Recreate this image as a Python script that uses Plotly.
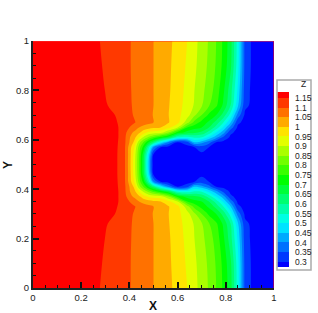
import numpy as np
import plotly.graph_objects as go

x_vals = [0, .15, .275, .31, .34, .36, .38, .40, .42, .44, .46, .48, .50, .53, .56, .60, .64, .67, .70, .73, .76, .79, .82, .85, .88, .92, .96, 1]
y_lower = [0, .1, .2, .26, .30, .33, .35, .37, .39, .41, .43, .46, .5]
z_lower = [
 [1.19,1.17,1.151,1.137,1.125,1.118,1.11,1.103,1.092,1.08,1.07,1.06,1.05,1.03,1.012,.985,.95,.915,.88,.845,.80,.74,.67,.525,.33,.28,.28,.28],
 [1.19,1.172,1.155,1.14,1.127,1.119,1.111,1.103,1.092,1.08,1.07,1.06,1.05,1.03,1.01,.98,.943,.91,.875,.84,.795,.735,.66,.52,.33,.28,.28,.28],
 [1.19,1.175,1.158,1.146,1.13,1.12,1.113,1.105,1.092,1.08,1.07,1.06,1.05,1.03,1.008,.975,.935,.90,.865,.825,.78,.71,.62,.49,.32,.28,.28,.28],
 [1.19,1.175,1.16,1.15,1.135,1.123,1.113,1.105,1.095,1.082,1.072,1.062,1.05,1.03,1.005,.97,.93,.895,.855,.805,.76,.69,.60,.46,.31,.285,.28,.28],
 [1.19,1.175,1.165,1.158,1.15,1.135,1.118,1.108,1.097,1.084,1.072,1.06,1.048,1.028,1.003,.965,.92,.86,.80,.74,.70,.63,.53,.38,.29,.285,.28,.28],
 [1.19,1.175,1.165,1.16,1.155,1.145,1.125,1.105,1.103,1.09,1.075,1.062,1.05,1.03,1.005,.965,.87,.78,.73,.69,.63,.55,.45,.31,.285,.28,.28,.28],
 [1.19,1.175,1.165,1.16,1.155,1.148,1.122,1.10,1.08,1.05,1.03,1.02,1.01,1.0,.97,.90,.75,.72,.70,.65,.58,.49,.38,.29,.28,.28,.28,.28],
 [1.19,1.175,1.165,1.16,1.155,1.148,1.118,1.07,1.04,1.01,.97,.94,.93,.92,.86,.73,.68,.66,.64,.58,.50,.42,.31,.285,.28,.28,.28,.28],
 [1.19,1.175,1.165,1.16,1.155,1.148,1.112,1.055,1.02,.95,.89,.84,.79,.73,.68,.55,.53,.56,.55,.49,.42,.34,.29,.28,.28,.28,.28,.28],
 [1.19,1.175,1.165,1.16,1.155,1.147,1.11,1.05,.99,.87,.79,.70,.62,.5,.40,.30,.33,.45,.42,.37,.30,.285,.28,.28,.28,.28,.28,.28],
 [1.19,1.175,1.165,1.16,1.155,1.146,1.108,1.03,.95,.83,.72,.57,.40,.3,.28,.28,.28,.30,.33,.30,.285,.28,.28,.28,.28,.28,.28,.28],
 [1.19,1.175,1.165,1.16,1.155,1.145,1.107,1.028,.93,.81,.66,.48,.29,.28,.28,.28,.28,.30,.285,.285,.28,.28,.28,.28,.28,.28,.28,.28],
 [1.19,1.175,1.165,1.16,1.155,1.145,1.107,1.025,.925,.805,.65,.45,.27,.27,.27,.27,.27,.30,.285,.285,.28,.28,.28,.28,.28,.28,.28,.28],
]
level_labels = ["0.3","0.35","0.4","0.45","0.5","0.55","0.6","0.65","0.7","0.75","0.8","0.85","0.9","0.95","1","1.05","1.1","1.15"]
level_vals = [float(s) for s in level_labels]
band_colors = ["#0000ff","#0039ff","#0071ff","#00aaff","#00e3ff","#00ffe3","#00ffaa","#00ff71","#00ff39",
               "#00ff00","#39ff00","#71ff00","#aaff00","#e3ff00","#ffe300","#ffaa00","#ff7100","#ff3900","#ff0000"]

y_vals = y_lower + [1 - v for v in y_lower[-2::-1]]
z_rows = z_lower + z_lower[-2::-1]

n = len(band_colors) - 1
scale = [[i / n, c] for i, c in enumerate(band_colors)]

# page geometry
W, H = 318, 313
L, T, B = 33, 41, 25
PW, PH = W - L, H - T - B
fx = lambda px: (px - L) / PW
fy = lambda py: (H - B - py) / PH

edges = [0.25] + level_vals + [1.2]
mids = [[(a + b) / 2] for a, b in zip(edges[:-1], edges[1:])]

fig = go.Figure()
fig.add_trace(go.Contour(
    x=x_vals, y=y_vals, z=z_rows,
    zmin=0.275, zmax=1.175, colorscale=scale, showscale=False,
    contours=dict(coloring="fill", start=0.3, end=1.15, size=0.05, showlines=False),
    line=dict(width=0),
))
fig.add_trace(go.Heatmap(
    x=[0, 1], y=edges, z=mids, zmin=0.275, zmax=1.175, colorscale=scale, showscale=False,
    xaxis="x2", yaxis="y2", hoverinfo="skip",
))

axis = dict(range=[0, 1], showgrid=False, zeroline=False, showline=True, linecolor="#222222", linewidth=2,
            ticks="inside", ticklen=6, tickwidth=1.5, tickcolor="#111111", dtick=0.2, tick0=0, automargin=False,
            minor=dict(ticks="inside", ticklen=3, tickwidth=1, tickcolor="#111111", dtick=0.05, tick0=0),
            tickfont=dict(family="Liberation Sans", size=9.5, color="#222222"))
title_font = dict(family="Liberation Sans", size=12, color="#111111")
legend_font = dict(family="Liberation Sans", size=8.5, color="#222222")
centered = dict(xref="paper", yref="paper", showarrow=False, xanchor="center", yanchor="middle")
fig.update_layout(
    width=W, height=H, autosize=False,
    margin=dict(l=L, r=0, t=T, b=B),
    paper_bgcolor="white", plot_bgcolor="white",
    xaxis=dict(axis, domain=[0, fx(274)]),
    yaxis=dict(axis, domain=[0, 1]),
    xaxis2=dict(domain=[fx(277.5), fx(289)], anchor="y2", range=[0, 1], visible=False),
    yaxis2=dict(domain=[fy(267), fy(92)], anchor="x2", side="right", range=[0.274, 1.181], showgrid=False,
                zeroline=False, showline=False, ticks="", tickmode="array", tickvals=level_vals,
                ticktext=level_labels, ticklabelstandoff=5, tickfont=legend_font, automargin=False),
    annotations=[
        dict(centered, text="<b>X</b>", x=fx(153), y=fy(306), font=title_font),
        dict(centered, text="<b>Y</b>", x=fx(8), y=fy(165), textangle=-90, font=title_font),
        dict(centered, text="Z", x=fx(303), y=fy(84), font=legend_font),
    ],
    shapes=[
        dict(type="rect", xref="paper", yref="paper", x0=fx(277), x1=fx(311), y0=fy(270), y1=fy(80),
             fillcolor="white", line=dict(color="#aaaaaa", width=1.5), layer="below"),
        dict(type="line", xref="x", yref="y", x0=0, x1=1, y0=1, y1=1, line=dict(color="#ff3030", width=1)),
        dict(type="line", xref="x", yref="y", x0=1, x1=1, y0=0, y1=1, line=dict(color="#ff0000", width=1)),
    ],
)
fig.write_html("out.html", post_script="document.body.style.margin='0';document.body.style.overflow='hidden';", config=dict(displayModeBar=False))
